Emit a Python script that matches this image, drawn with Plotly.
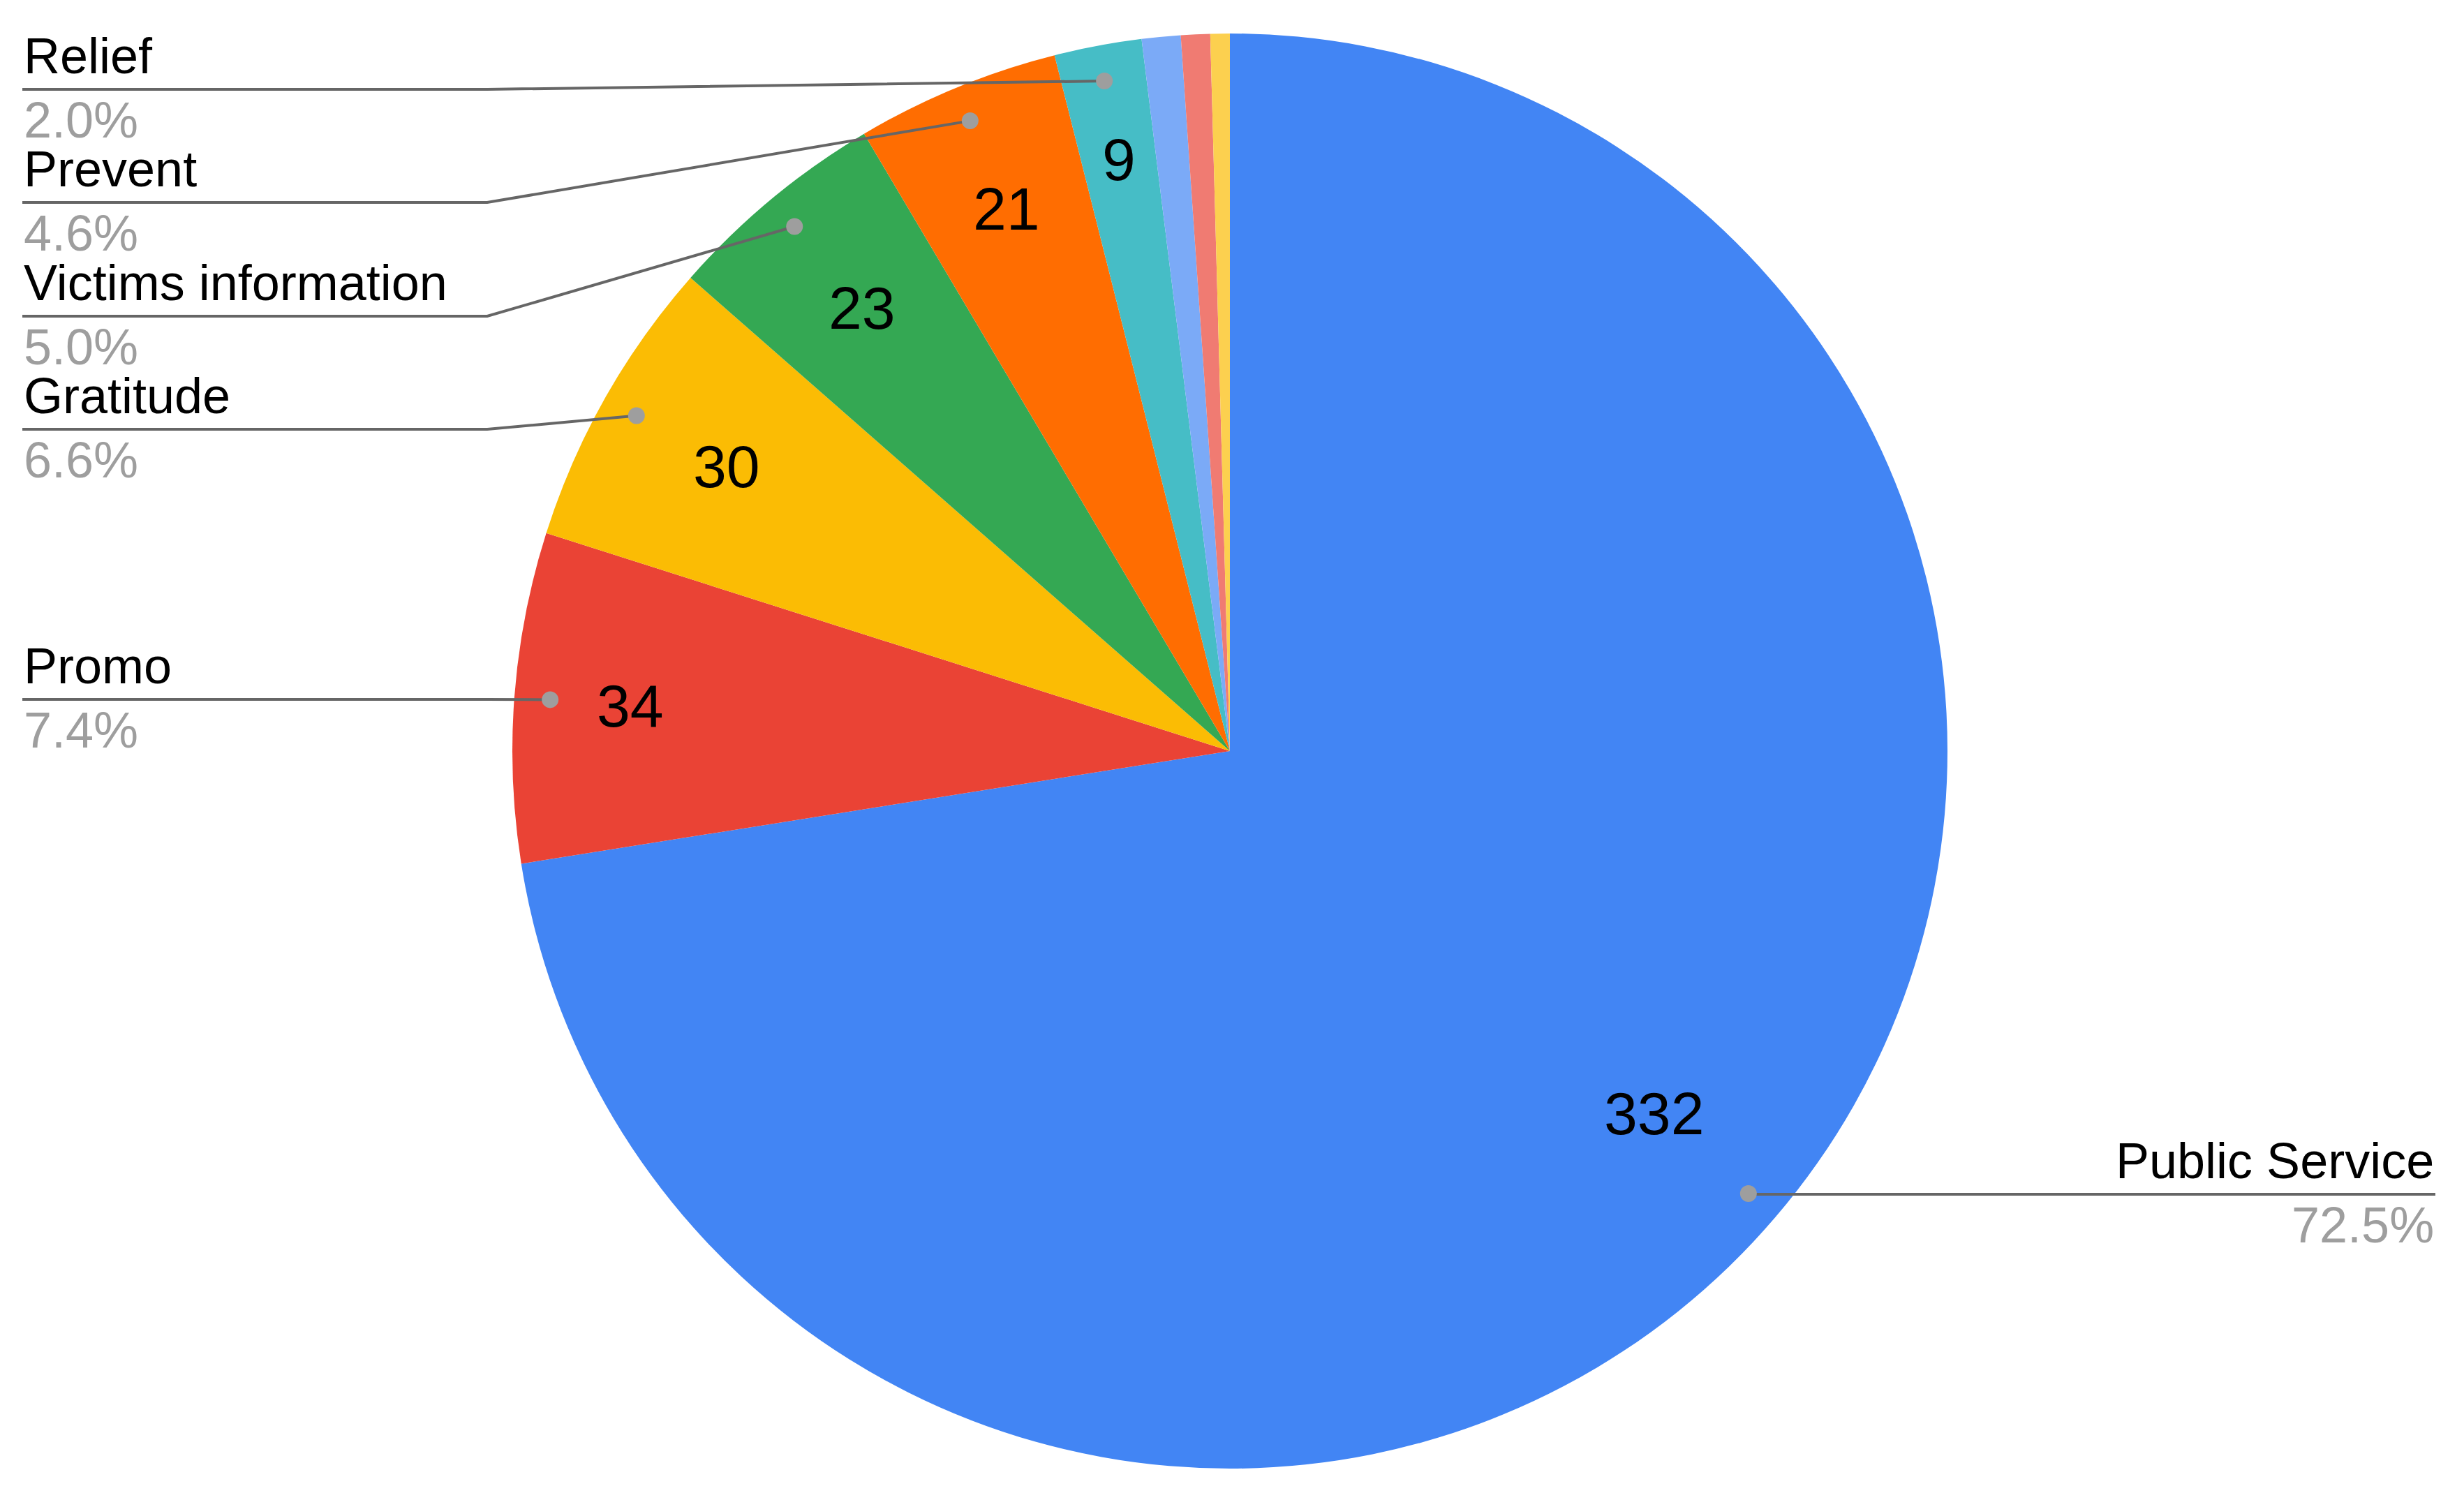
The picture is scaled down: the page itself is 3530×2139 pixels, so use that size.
import math
import plotly.graph_objects as go


categories = ['Public Service', 'Promo', 'Gratitude', 'Victims information', 'Prevent', 'Relief',
              'Other (a)', 'Other (b)', 'Other (c)']
counts = [332, 34, 30, 23, 21, 9, 4, 3, 2]
colors = ['#4285F4', '#EA4335', '#FBBC04', '#34A853', '#FF6D01', '#46BDC6', '#7BAAF7', '#F07B72', '#FCD04F']
labelled = ['Public Service', 'Promo', 'Gratitude', 'Victims information', 'Prevent', 'Relief']

# page / pie geometry in pixels (y down)
W, H = 3530, 2139
CX, CY, R = 1762, 1076, 1028
FONT = 'Arial, Liberation Sans, sans-serif'

# layout of the labels: line height (pixel y) of each outside label, and how far out
# (fraction of the radius) each value sits inside its slice
label_line_y = {'Relief': 128, 'Prevent': 290, 'Victims information': 453,
                'Gratitude': 615, 'Promo': 1002, 'Public Service': 1711}
value_r = {'Public Service': 0.777, 'Promo': 0.838, 'Gratitude': 0.806,
           'Victims information': 0.803, 'Prevent': 0.818, 'Relief': 0.839}
LEFT_X, RIGHT_X, BEND = 32, 3489, 698


def px(x):
  return x / W


def py(y):
  return 1 - y / H


def polar(frac_angle, r):
  # angle measured clockwise from 12 o'clock, as a fraction of the full turn
  a = 2 * math.pi * frac_angle
  return CX + r * math.sin(a), CY - r * math.cos(a)


def main():
  total = sum(counts)

  fig = go.Figure(go.Pie(
    labels=categories, values=counts, sort=False, direction='clockwise', rotation=0,
    marker=dict(colors=colors, line=dict(width=0)), textinfo='none', hoverinfo='label+value+percent',
    domain=dict(x=[px(CX - R), px(CX + R)], y=[py(CY + R), py(CY - R)]),
  ))

  shapes = []
  annotations = []
  cum = 0
  for name, v in zip(categories, counts):
    mid = (cum + v / 2) / total
    cum += v
    if name not in labelled:
      continue

    # value inside the slice
    tx, ty = polar(mid, value_r[name] * R)
    annotations.append(dict(x=px(tx), y=py(ty), xref='paper', yref='paper', text=str(v), showarrow=False,
                            xanchor='center', yanchor='middle', font=dict(family=FONT, size=86, color='#000000')))

    # leader line + dot
    dx, dy = polar(mid, 0.95 * R)
    ly = label_line_y[name]
    right = dx > CX
    bx = dx if right else BEND
    ex = RIGHT_X if right else LEFT_X
    path = 'M {},{} L {},{} L {},{}'.format(px(dx), py(dy), px(bx), py(ly), px(ex), py(ly))
    shapes.append(dict(type='path', path=path, xref='paper', yref='paper', line=dict(color='#666666', width=4)))
    shapes.append(dict(type='circle', xref='paper', yref='paper', x0=px(dx - 12), x1=px(dx + 12),
                       y0=py(dy + 12), y1=py(dy - 12), fillcolor='#9e9e9e', line=dict(width=0)))

    anchor = 'right' if right else 'left'
    annotations.append(dict(x=px(ex), y=py(ly - 48), xref='paper', yref='paper', text=name, showarrow=False,
                            xanchor=anchor, yanchor='middle', font=dict(family=FONT, size=72, color='#000000')))
    pct = '{:.1f}%'.format(100 * v / total)
    annotations.append(dict(x=px(ex), y=py(ly + 44), xref='paper', yref='paper', text=pct, showarrow=False,
                            xanchor=anchor, yanchor='middle', font=dict(family=FONT, size=72, color='#9e9e9e')))

  fig.update_layout(
    width=W, height=H, margin=dict(l=0, r=0, t=0, b=0), showlegend=False,
    paper_bgcolor='white', plot_bgcolor='white', shapes=shapes, annotations=annotations,
  )
  # drop the page's default body margin so the figure sits at the window's corner
  fig.write_html('out.html', config={'displayModeBar': False},
                 post_script="document.body.style.margin = '0';")


main()
